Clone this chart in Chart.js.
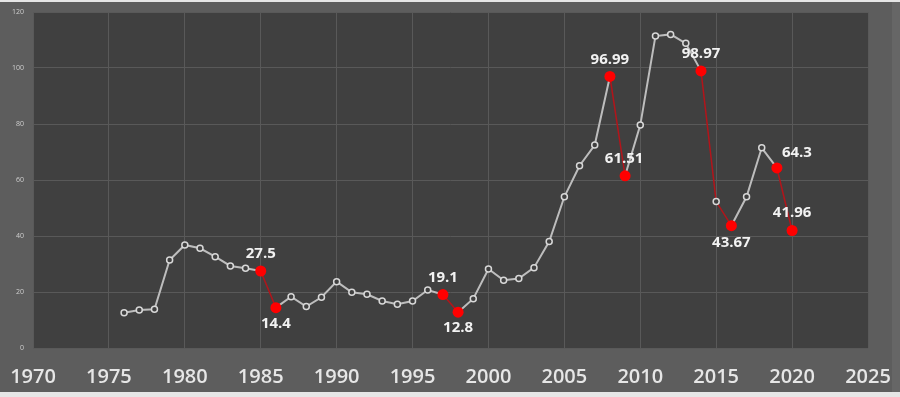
<!DOCTYPE html>
<html>
<head>
<meta charset="utf-8">
<script src="https://cdn.jsdelivr.net/npm/chart.js@4"></script>
<style>
html,body{margin:0;padding:0;background:#e8e8e8;}
#wrap{width:900px;height:397px;position:relative;}
</style>
</head>
<body>
<div id="wrap"><canvas id="c" width="900" height="397"></canvas></div>
<script>
// ---- data ----
const years = [1976,1977,1978,1979,1980,1981,1982,1983,1984,1985,1986,1987,1988,1989,1990,1991,1992,1993,1994,1995,1996,1997,1998,1999,2000,2001,2002,2003,2004,2005,2006,2007,2008,2009,2010,2011,2012,2013,2014,2015,2016,2017,2018,2019,2020];
const values = [12.6,13.6,13.8,31.4,36.8,35.6,32.6,29.3,28.5,27.5,14.4,18.3,14.8,18.1,23.7,19.9,19.2,16.8,15.6,16.8,20.7,19.1,12.8,17.6,28.2,24.2,24.8,28.7,38.0,54.0,65.1,72.5,96.99,61.51,79.6,111.4,112.0,108.8,98.97,52.3,43.67,54.0,71.5,64.3,41.96];
// drop periods drawn in red [start, end]
const dropPeriods = [[1985,1986],[1997,1998],[2008,2009],[2014,2016],[2019,2020]];
// highlighted (red) points
const highlightYears = [1985,1986,1997,1998,2008,2009,2014,2016,2019,2020];
const highlightLabels = ['27.5','14.4','19.1','12.8','96.99','61.51','98.97','43.67','64.3','41.96'];
const xTicks = [1970,1975,1980,1985,1990,1995,2000,2005,2010,2015,2020,2025];
const yTicks = [0,20,40,60,80,100,120];

// ---- styling / placement ----
const labelPlace = { // dx, dy offsets in px from point
  1985:[0,-17],1986:[0,16],1997:[0,-17],1998:[0,16],2008:[0,-17],
  2009:[-1,-17],2014:[0,-17],2016:[0,17],2019:[20,-15],2020:[0,-18]
};
const RED = '#ff0000', REDLINE = '#b3141a', GRAY = '#bdbdbd';

const inDrop = (a,b) => dropPeriods.some(p => a >= p[0] && b <= p[1]);
const isHi = y => highlightYears.includes(y);

const pts = years.map((y,i)=>({x:y,y:values[i]}));

const bgPlugin = {
  id:'bg',
  beforeDraw(chart){
    const c = chart.ctx, a = chart.chartArea;
    c.save();
    c.fillStyle = '#e6e6e6'; c.fillRect(0,0,900,397);
    c.fillStyle = '#5d5d5d'; c.fillRect(0,2,900,390);
    c.fillStyle = '#666666'; c.fillRect(892,2,8,390);
    c.fillStyle = '#404040'; c.fillRect(a.left,a.top,a.right-a.left,a.bottom-a.top);
    c.restore();
  }
};
const labelPlugin = {
  id:'lbl',
  afterDatasetsDraw(chart){
    const c = chart.ctx, xs = chart.scales.x, ys = chart.scales.y;
    c.save();
    c.font = 'bold 15px "Open Sans", sans-serif';
    c.fillStyle = '#f2f2f2';
    c.textAlign = 'center'; c.textBaseline = 'middle';
    highlightYears.forEach((yr,k)=>{
      const v = values[years.indexOf(yr)];
      const off = labelPlace[yr] || [0,-17];
      c.fillText(highlightLabels[k], xs.getPixelForValue(yr)+off[0], ys.getPixelForValue(v)+off[1]);
    });
    c.restore();
  }
};

new Chart(document.getElementById('c'), {
  type:'line',
  data:{datasets:[{
    data:pts,
    borderWidth:2,
    borderColor:GRAY,
    segment:{
      borderColor: ctx => inDrop(ctx.p0.parsed.x, ctx.p1.parsed.x) ? REDLINE : GRAY,
      borderWidth: ctx => inDrop(ctx.p0.parsed.x, ctx.p1.parsed.x) ? 1.5 : 2
    },
    pointRadius: years.map(y => isHi(y) ? 5.5 : 3),
    pointBackgroundColor: years.map(y => isHi(y) ? RED : '#404040'),
    pointBorderColor: years.map(y => isHi(y) ? RED : '#d8d8d8'),
    pointBorderWidth: years.map(y => isHi(y) ? 0 : 1.5),
    tension:0
  }]},
  options:{
    responsive:false, animation:false,
    layout:{padding:{top:12,right:32,left:0,bottom:0}},
    plugins:{legend:{display:false},tooltip:{enabled:false}},
    scales:{
      x:{type:'linear',min:1970,max:2025,
        afterBuildTicks: s => { s.ticks = xTicks.map(v=>({value:v})); },
        afterFit: s => { s.height = 49; s.paddingLeft = 0; s.paddingRight = 0; },
        grid:{color:'#595959',lineWidth:1,drawTicks:false},
        border:{display:false},
        ticks:{color:'#e6e6e6',font:{size:20,weight:'600',family:'"Open Sans", sans-serif'},padding:17,maxRotation:0,autoSkip:false,
          callback: v => String(v)}
      },
      y:{min:0,max:120,
        afterBuildTicks: s => { s.ticks = yTicks.map(v=>({value:v})); },
        afterFit: s => { s.width = 33; s.paddingTop = 0; s.paddingBottom = 0; },
        grid:{color:'#595959',lineWidth:1,drawTicks:false},
        border:{display:false},
        ticks:{color:'#cfcfcf',font:{size:7,family:'"Open Sans", sans-serif'},padding:9,callback: v => String(v)}
      }
    }
  },
  plugins:[bgPlugin,labelPlugin]
});
</script>
</body>
</html>
